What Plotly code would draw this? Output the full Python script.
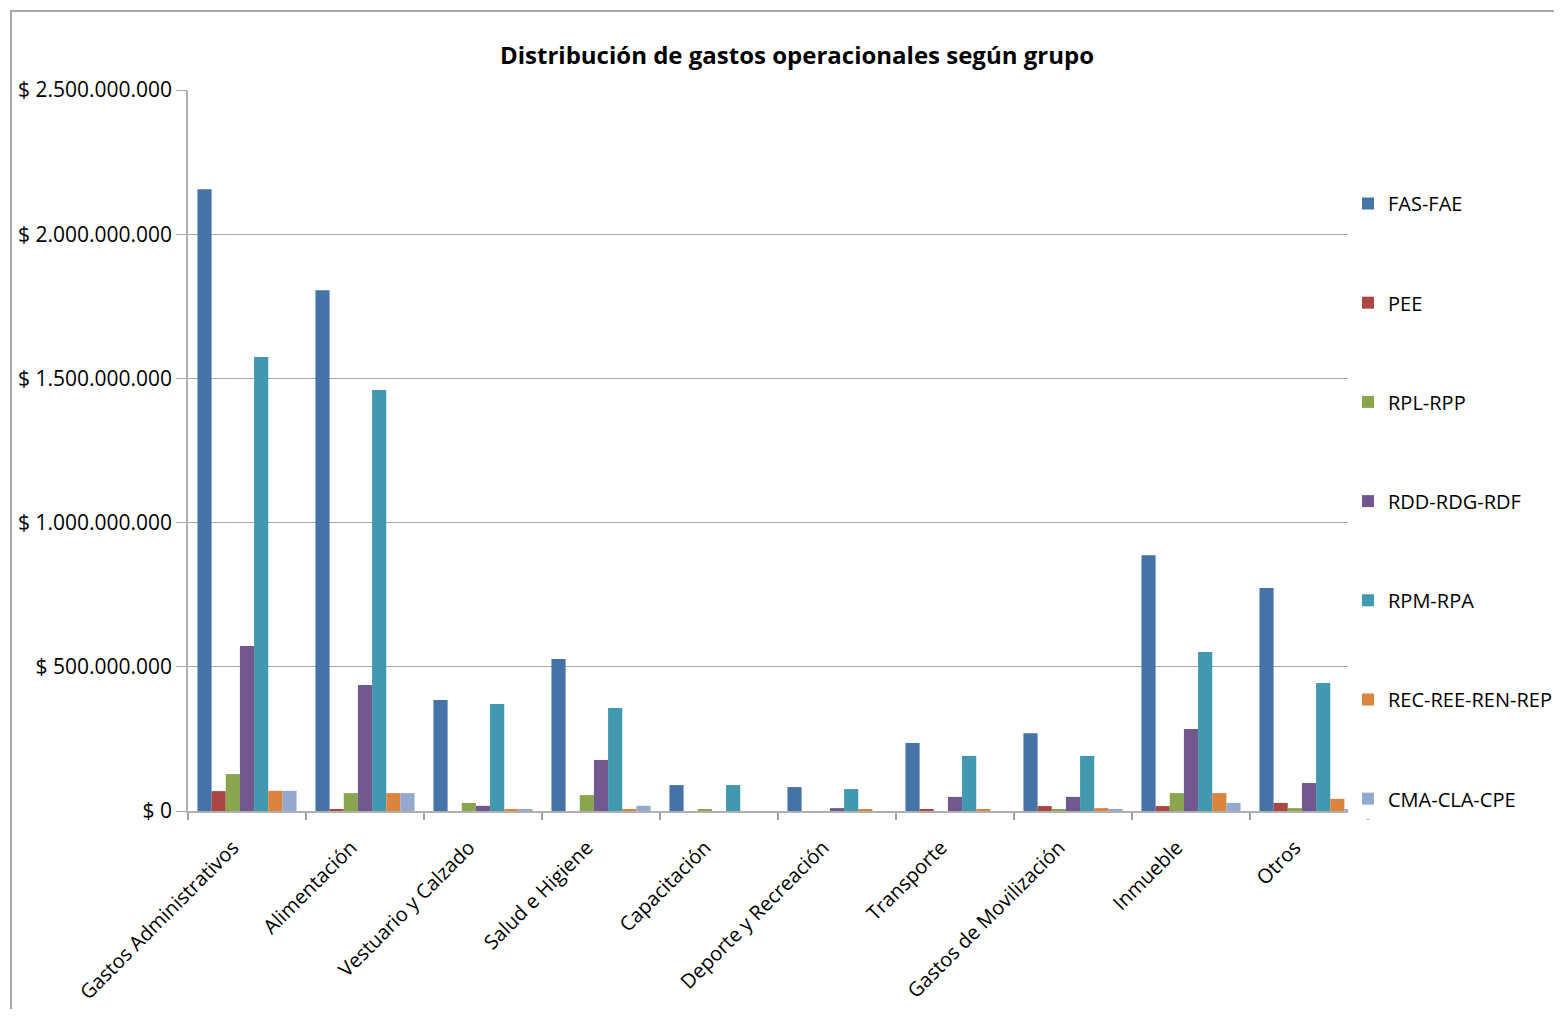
import plotly.graph_objects as go

categories = ["Gastos Administrativos", "Alimentación", "Vestuario y Calzado", "Salud e Higiene",
              "Capacitación", "Deporte y Recreación", "Transporte", "Gastos de Movilización",
              "Inmueble", "Otros"]

series_names = ["FAS-FAE", "PEE", "RPL-RPP", "RDD-RDG-RDF", "RPM-RPA", "REC-REE-REN-REP", "CMA-CLA-CPE"]

fas_fae = [2156e6, 1806e6, 385e6, 527e6, 90e6, 83e6, 236e6, 270e6, 887e6, 773e6]
pee = [69e6, 5e6, 0, 0, 0, 0, 5e6, 17e6, 17e6, 28e6]
rpl_rpp = [128e6, 62e6, 28e6, 55e6, 5e6, 0, 0, 5e6, 62e6, 10e6]
rdd_rdg_rdf = [572e6, 437e6, 18e6, 177e6, 0, 10e6, 49e6, 49e6, 284e6, 97e6]
rpm_rpa = [1574e6, 1460e6, 371e6, 357e6, 90e6, 76e6, 191e6, 191e6, 551e6, 444e6]
rec_ree_ren_rep = [70e6, 62e6, 5e6, 5e6, 0, 5e6, 5e6, 10e6, 62e6, 42e6]
cma_cla_cpe = [70e6, 62e6, 5e6, 18e6, 0, 0, 0, 5e6, 28e6, 5e6]

series_values = [fas_fae, pee, rpl_rpp, rdd_rdg_rdf, rpm_rpa, rec_ree_ren_rep, cma_cla_cpe]
colors = ["#4572A7", "#AA4643", "#89A54E", "#71588F", "#4198AF", "#DB843D", "#93A9CF"]

y_tickvals = [0, 500e6, 1000e6, 1500e6, 2000e6, 2500e6]
y_ticktext = ["$ 0", "$ 500.000.000", "$ 1.000.000.000", "$ 1.500.000.000",
              "$ 2.000.000.000", "$ 2.500.000.000"]

FONT = "Open Sans"

fig = go.Figure()
for name, vals, col in zip(series_names, series_values, colors):
    fig.add_trace(go.Bar(x=categories, y=vals, name=name, marker_color=col,
                         marker_line_width=0, legendgroup=name))

W, H = 1546, 1001
L, R, T, B = 180, 1360, 82, 803

fig.update_layout(
    width=W, height=H,
    margin=dict(l=L, r=W - R, t=T, b=H - B, autoexpand=False),
    paper_bgcolor="white", plot_bgcolor="white",
    barmode="group", bargap=0.16, bargroupgap=0,
    font=dict(family=FONT, size=20, color="#000000"),
    title=dict(text="<b>Distribución de gastos operacionales según grupo</b>",
               xref="container", x=789 / W, xanchor="center",
               yref="container", y=1 - 48 / H, yanchor="middle",
               font=dict(family=FONT, size=24, color="#000000")),
    legend=dict(x=(1340 - L) / (R - L), xanchor="left", y=(B - 176) / (B - T), yanchor="top",
                bgcolor="white", borderwidth=0, traceorder="grouped", tracegroupgap=70.2,
                font=dict(family=FONT, size=20, color="#000000")),
    xaxis=dict(showline=True, linecolor="#b0b0b0", linewidth=2, ticks="outside",
               tickson="boundaries", ticklen=7, tickcolor="#a0a0a0", tickwidth=2,
               tickangle=-45, showgrid=False, tickfont=dict(family=FONT, size=20),
               ticklabelstandoff=15, ticklabelshift=-14),
    yaxis=dict(range=[0, 2.5e9], tickvals=y_tickvals, ticktext=y_ticktext,
               showline=True, linecolor="#b0b0b0", linewidth=1.5,
               showgrid=True, gridcolor="#a6a6a6", gridwidth=1,
               ticks="outside", ticklen=10, tickcolor="#a6a6a6",
               zeroline=False, tickfont=dict(family=FONT, size=21)),
    shapes=[dict(type="rect", xref="paper", yref="paper",
                 x0=(3 - L) / (R - L), x1=(W + 50 - L) / (R - L),
                 y0=(B - (H + 50)) / (B - T), y1=(B - 3) / (B - T),
                 line=dict(color="#8c8c8c", width=1.5), fillcolor="rgba(0,0,0,0)",
                 layer="below")],
)

fig.write_html("out.html")
